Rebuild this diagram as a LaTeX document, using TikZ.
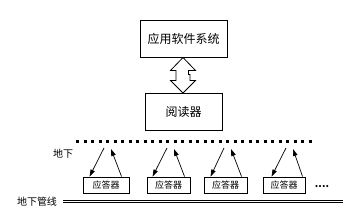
\documentclass[tikz,border=0pt]{standalone}
\usepackage{fontspec}
\setmainfont{Noto Sans CJK SC}
\usetikzlibrary{arrows.meta,calc}
\tikzset{
  bigbox/.style={draw,line width=1pt,inner sep=0pt,font=\fontsize{12}{12}\selectfont},
  balise/.style={draw,line width=0.9pt,inner sep=0pt,minimum height=16pt,font=\fontsize{9}{9}\selectfont},
  sig/.style={line width=0.7pt,-{Triangle[length=7pt,width=4.5pt]}},
  lbl/.style={inner sep=0pt,font=\fontsize{10}{10}\selectfont}
}
\begin{document}
\begin{tikzpicture}[x=1pt,y=-1pt]
\useasboundingbox (0,0) rectangle (357,220);
\node[bigbox,minimum width=87pt,minimum height=37pt] (app) at (183.5,38.5) {应用软件系统};
\node[bigbox,minimum width=77pt,minimum height=37pt] (reader) at (183.5,111.5) {阅读器};
% double arrow
\draw[line width=0.8pt,fill=white] (183,57.5) -- (195.5,70.5) -- (188.5,70.5) -- (188.5,74.5) -- (190,74.5) -- (190,80.5)
  -- (195.5,80.5) -- (183,93) -- (170.5,80.5) -- (176,80.5) -- (176,70.5) -- (170.5,70.5) -- cycle;
% dotted underground line
\coordinate (gl) at (76,141);
\coordinate (gr) at (314,141);
\draw[line width=3pt,dash pattern=on 3pt off 4.5pt] (gl) -- (gr);
\node[lbl] (dx) at (63,154) {地下};
% balises
\node[balise,minimum width=46pt] (b1) at (106,185) {应答器};
\node[balise,minimum width=43pt] (b2) at (168.5,185) {应答器};
\node[balise,minimum width=43pt] (b3) at (225.5,185) {应答器};
\node[balise,minimum width=42pt] (b4) at (284,185) {应答器};
\node[inner sep=0pt,font=\fontsize{10}{10}\selectfont\bfseries] (more) at (322,187) {....};
% signal arrows
\coordinate (d1) at (104,148); \coordinate (u1) at (111,149);
\coordinate (d2) at (167,148); \coordinate (u2) at (174,149);
\coordinate (d3) at (224,148); \coordinate (u3) at (231,149);
\coordinate (d4) at (286,148); \coordinate (u4) at (293,149);
\draw[sig] (d1) -- ($(b1.north west)+(7,0)$);
\draw[sig] ($(b1.north west)+(39,0)$) -- (u1);
\draw[sig] (d2) -- ($(b2.north west)+(6,0)$);
\draw[sig] ($(b2.north west)+(38,0)$) -- (u2);
\draw[sig] (d3) -- ($(b3.north west)+(7,0)$);
\draw[sig] ($(b3.north west)+(38,0)$) -- (u3);
\draw[sig] (d4) -- ($(b4.north west)+(9,0)$);
\draw[sig] ($(b4.north west)+(40,0)$) -- (u4);
% pipeline
\node[lbl] (pipe) at (37,201.5) {地下管线};
\coordinate (pl) at (63,201.5);
\coordinate (pr) at (343,201.5);
\draw[line width=0.9pt,double,double distance=1.8pt] (pl) -- (pr);
\end{tikzpicture}
\end{document}
